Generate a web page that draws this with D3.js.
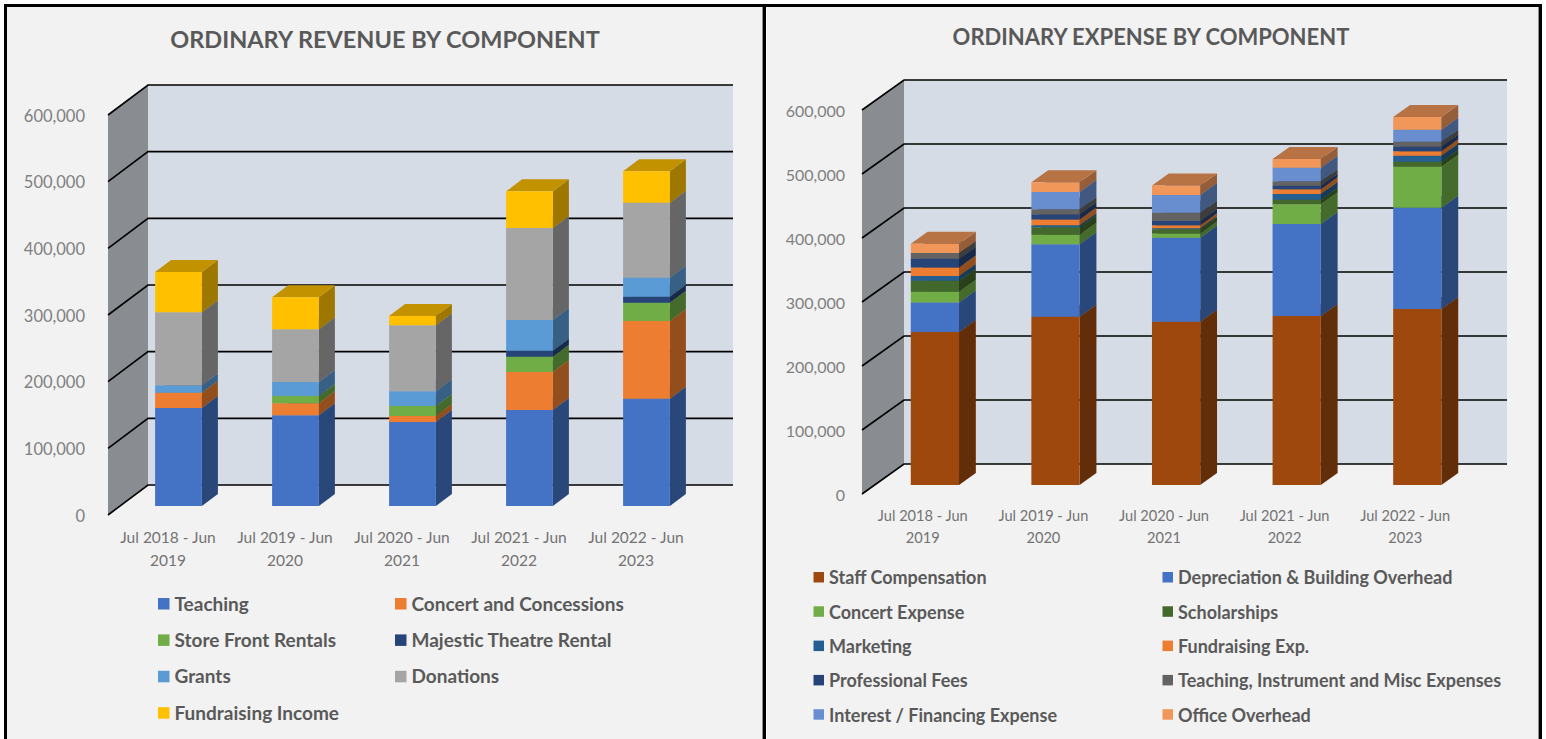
<!DOCTYPE html>
<html>
<head>
<meta charset="utf-8">
<script src="https://cdn.jsdelivr.net/npm/d3@7"></script>
<style>
  html, body { margin: 0; padding: 0; background: #fff; overflow: hidden; }
  text { font-family: Lato, "Open Sans", sans-serif; }
</style>
</head>
<body>
<div id="container"></div>
<script>
const periods = [
  ["Jul 2018 - Jun", "2019"],
  ["Jul 2019 - Jun", "2020"],
  ["Jul 2020 - Jun", "2021"],
  ["Jul 2021 - Jun", "2022"],
  ["Jul 2022 - Jun", "2023"]
];
const yTicks = [0, 100000, 200000, 300000, 400000, 500000, 600000];

// revenue, in thousands
const revenueNames = ["Teaching", "Concert and Concessions", "Store Front Rentals", "Majestic Theatre Rental", "Grants", "Donations", "Fundraising Income"];
const revenueColors = ["#4472C4", "#ED7D31", "#70AD47", "#264478", "#5B9BD5", "#A5A5A5", "#FFC000"];
const teaching = [147, 136, 126, 144, 161];
const concerts = [23, 18, 9, 57, 116.5];
const storeFront = [0, 11, 15, 23, 27.5];
const majestic = [0, 0, 0, 9, 9];
const grants = [11, 21, 22, 46, 28.5];
const donations = [109.5, 79, 99, 138, 112.5];
const fundraisingIncome = [60.5, 48, 14, 55, 47];
const revenueSeries = [teaching, concerts, storeFront, majestic, grants, donations, fundraisingIncome];

// expense, in thousands
const expenseNames = ["Staff Compensation", "Depreciation & Building Overhead", "Concert Expense", "Scholarships", "Marketing", "Fundraising Exp.", "Professional Fees", "Teaching, Instrument and Misc Expenses", "Interest / Financing Expense", "Office Overhead"];
const expenseColors = ["#9E480E", "#4472C4", "#70AD47", "#43682B", "#255E91", "#ED7D31", "#264478", "#636363", "#698ED0", "#F1975A"];
const staff = [239, 263, 255, 264, 275];
const depreciation = [46, 113, 131.4, 144, 158.3];
const concertExpense = [17, 15, 6.6, 30.6, 64.1];
const scholarships = [17, 11.6, 6.5, 7.2, 7.6];
const marketing = [7.5, 3.4, 1.5, 8.9, 9.5];
const fundraisingExp = [13.5, 9, 5, 7.3, 6.9];
const professional = [13.5, 8, 6.5, 5.7, 7.6];
const teachingMisc = [9, 8, 13, 6.8, 7.4];
const interest = [0, 27, 27.5, 21.3, 18.6];
const office = [14.5, 15, 15, 13.6, 20];
const expenseSeries = [staff, depreciation, concertExpense, scholarships, marketing, fundraisingExp, professional, teachingMisc, interest, office];

const width = 1546, height = 739;
const svg = d3.create("svg")
  .attr("width", width)
  .attr("height", height)
  .attr("viewBox", [0, 0, width, height])
  .style("display", "block");

function drawChart(opt) {
  const g = svg.append("g");

  // panel
  g.append("rect")
    .attr("x", opt.panel[0]).attr("y", 7)
    .attr("width", opt.panel[1] - opt.panel[0]).attr("height", height)
    .attr("fill", "#F2F2F2");

  g.append("text")
    .attr("x", opt.titleX).attr("y", opt.titleY)
    .attr("text-anchor", "middle")
    .attr("font-size", opt.titleSize).attr("font-weight", 700)
    .attr("fill", "#595959")
    .text(opt.title);

  const x = d3.scaleBand().domain(d3.range(periods.length))
    .range([opt.x0, opt.x1]).paddingInner(0.6).paddingOuter(0.3);
  const y = d3.scaleLinear().domain([0, 600000]).range([opt.y0, opt.y1]);

  // oblique projection: z 0 is the front of the floor, z 1 the back wall
  const px = (v, z) => v + z * opt.dx;
  const py = (v, z) => y(v) + z * opt.dy;
  const poly = pts => "M" + pts.map(p => p.join(",")).join("L") + "Z";

  // back wall
  g.append("path")
    .attr("d", poly([[px(opt.x0, 1), py(600000, 1)], [px(opt.x1, 1), py(600000, 1)], [px(opt.x1, 1), py(0, 1)], [px(opt.x0, 1), py(0, 1)]]))
    .attr("fill", "#D6DCE5");
  // side wall
  g.append("path")
    .attr("d", poly([[px(opt.x0, 0), py(600000, 0)], [px(opt.x0, 1), py(600000, 1)], [px(opt.x0, 1), py(0, 1)], [px(opt.x0, 0), py(0, 0)]]))
    .attr("fill", "#898C90");

  // gridlines, run round the wall
  g.append("g").selectAll("path")
    .data(yTicks)
    .join("path")
    .attr("d", t => d3.line()([[px(opt.x0, 0), py(t, 0)], [px(opt.x0, 1), py(t, 1)], [px(opt.x1, 1), py(t, 1)]]))
    .attr("fill", "none")
    .attr("stroke", "#000")
    .attr("stroke-width", 1.6);

  // bars, bottom segment first
  const zf = 0.3, zb = 0.7;
  opt.series.forEach((vals, s) => {
    const c = d3.rgb(opt.colors[s]);
    const shade = k => d3.rgb(c.r * k, c.g * k, c.b * k).formatHex();
    vals.forEach((v, i) => {
      if (!v) return;
      const base = d3.sum(opt.series.slice(0, s), d => d[i]) * 1000;
      const top = base + v * 1000;
      const l = x(i), r = x(i) + x.bandwidth();
      const faces = [
        { fill: shade(0.62), pts: [[px(r, zf), py(base, zf)], [px(r, zb), py(base, zb)], [px(r, zb), py(top, zb)], [px(r, zf), py(top, zf)]] },
        { fill: shade(0.76), pts: [[px(l, zf), py(top, zf)], [px(r, zf), py(top, zf)], [px(r, zb), py(top, zb)], [px(l, zb), py(top, zb)]] },
        { fill: opt.colors[s], pts: [[px(l, zf), py(base, zf)], [px(r, zf), py(base, zf)], [px(r, zf), py(top, zf)], [px(l, zf), py(top, zf)]] }
      ];
      g.append("g").selectAll("path")
        .data(faces)
        .join("path")
        .attr("d", f => poly(f.pts))
        .attr("fill", f => f.fill);
    });
  });

  // value axis, labels only
  const yAxis = g.append("g")
    .attr("transform", `translate(${opt.x0 - 6},1)`)
    .call(d3.axisLeft(y).tickValues(yTicks).tickFormat(d3.format(",")).tickSize(0).tickPadding(opt.tickPad));
  yAxis.select(".domain").remove();
  yAxis.selectAll("text")
    .attr("font-size", opt.tickSize)
    .attr("fill", "#7F7F7F")
    .style("font-family", "Lato, sans-serif");

  // category labels
  const cats = g.append("g").selectAll("text")
    .data(periods)
    .join("text")
    .attr("text-anchor", "middle")
    .attr("font-size", opt.catSize)
    .attr("fill", "#737373");
  cats.selectAll("tspan")
    .data((d, i) => d.map((line, k) => ({ line, k, i })))
    .join("tspan")
    .attr("x", d => x(d.i) + x.bandwidth() / 2 + opt.catShift)
    .attr("y", d => opt.catY + d.k * opt.catGap)
    .text(d => d.line);

  // legend
  const items = g.append("g").selectAll("g")
    .data(opt.names)
    .join("g")
    .attr("transform", (d, i) => `translate(${opt.legendX[i % 2]},${opt.legendY + Math.floor(i / 2) * (opt.legendGap)})`);
  items.append("rect")
    .attr("x", 0).attr("y", -6)
    .attr("width", opt.swatch).attr("height", opt.swatch)
    .attr("fill", (d, i) => opt.colors[i]);
  items.append("text")
    .attr("x", opt.swatch + 5)
    .attr("y", 0)
    .attr("dy", "0.35em")
    .attr("font-size", opt.legendSize)
    .attr("font-weight", 700)
    .attr("fill", "#595959")
    .text(d => d);
}

drawChart({
  panel: [7, 764],
  title: "ORDINARY REVENUE BY COMPONENT",
  titleX: 385, titleY: 48, titleSize: 23.5,
  names: revenueNames, colors: revenueColors, series: revenueSeries,
  x0: 108, x1: 693, y0: 515, y1: 115, dx: 40, dy: -30,
  tickPad: 17, tickSize: 16.5,
  catY: 543, catGap: 22.5, catSize: 15.5, catShift: 1.5,
  legendX: [158, 395], legendY: 604, legendGap: 36.4, swatch: 11.5, legendSize: 19
});

drawChart({
  panel: [767, 1539],
  title: "ORDINARY EXPENSE BY COMPONENT",
  titleX: 1151, titleY: 45, titleSize: 22,
  names: expenseNames, colors: expenseColors, series: expenseSeries,
  x0: 862, x1: 1465, y0: 494, y1: 110, dx: 42, dy: -30,
  tickPad: 11, tickSize: 16,
  catY: 520.5, catGap: 22, catSize: 14.6, catShift: 0.5,
  legendX: [813.5, 1162.5], legendY: 578, legendGap: 34.3, swatch: 10.5, legendSize: 18
});

// frame lines, with the thin grey edge beside the divider and right border
svg.append("g").selectAll("line")
  .data([[5.5, 5.5, 5.5, 739], [764.5, 5.5, 764.5, 739], [1540.5, 5.5, 1540.5, 739], [4, 5.5, 1542, 5.5]])
  .join("line")
  .attr("x1", d => d[0]).attr("y1", d => d[1])
  .attr("x2", d => d[2]).attr("y2", d => d[3])
  .attr("stroke", "#000")
  .attr("stroke-width", 3);
svg.append("g").selectAll("line")
  .data([762.5, 1538.5])
  .join("line")
  .attr("x1", d => d).attr("y1", 7)
  .attr("x2", d => d).attr("y2", 739)
  .attr("stroke", "#8C8C8C")
  .attr("stroke-width", 1);

document.getElementById("container").append(svg.node());
</script>
</body>
</html>
